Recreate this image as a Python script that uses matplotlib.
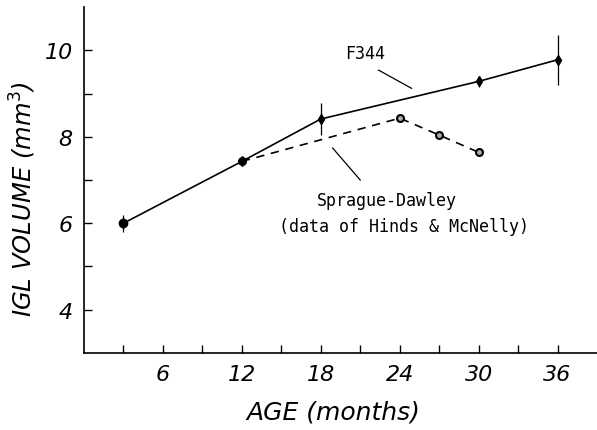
import matplotlib.pyplot as plt

# F344 data (this study)
f344_age = [3, 12, 18, 30, 36]
f344_vol = [6.0, 7.43, 8.41, 9.28, 9.78]
f344_err = [0.2, 0.05, 0.37, 0.12, 0.58]

# Sprague-Dawley (data of Hinds & McNelly)
sd_age = [12, 24, 27, 30]
sd_vol = [7.43, 8.43, 8.04, 7.64]

x_ticks = list(range(3, 37, 3))
x_labels = ['' if t % 6 else str(t) for t in x_ticks]
y_ticks = [4, 5, 6, 7, 8, 9, 10]
y_labels = ['4', '', '6', '', '8', '', '10']


def main():
    fig = plt.figure(figsize=(5.97, 4.31), dpi=100)
    ax = fig.add_axes([0.1407, 0.1787, 0.8593, 0.8027])

    ax.errorbar(f344_age, f344_vol, yerr=f344_err, color='black', lw=1.2,
                elinewidth=0.9, capsize=0, marker='d', ms=5)
    ax.plot([3], [6.0], 'o', color='black', ms=6)
    ax.plot(sd_age, sd_vol, color='black', lw=1.2, ls=(0, (5, 4)),
            marker='o', ms=5, mfc='#aaaaaa', mec='black', mew=1.5)

    # annotations (plotter-style mono font)
    mono = dict(family='DejaVu Sans Mono', fontsize=12, ha='center', va='center')
    ax.text(21.4, 9.93, 'F344', **mono)
    ax.plot([22.4, 24.9], [9.54, 9.12], color='black', lw=0.9)
    ax.text(23.0, 6.54, 'Sprague-Dawley', **mono)
    ax.text(24.3, 5.94, '(data of Hinds & McNelly)', **mono)
    ax.plot([18.9, 21.0], [7.74, 7.0], color='black', lw=0.9)

    ax.set_xlim(0, 39)
    ax.set_ylim(3, 11)
    ax.set_xticks(x_ticks)
    ax.set_xticklabels(x_labels, fontsize=16, style='italic')
    ax.set_yticks(y_ticks)
    ax.set_yticklabels(y_labels, fontsize=16, style='italic')
    ax.tick_params(direction='in', length=6, width=1, pad=8)
    ax.spines['top'].set_visible(False)
    ax.spines['right'].set_visible(False)
    ax.spines['left'].set_linewidth(1.2)
    ax.spines['bottom'].set_linewidth(1.2)

    ax.set_xlabel('AGE (months)', fontsize=18, style='italic')
    ax.xaxis.set_label_coords(0.485, -0.168)
    ax.set_ylabel('IGL VOLUME (mm$^{3}$)', fontsize=17.5, style='italic')
    ax.yaxis.set_label_coords(-0.119, 0.448)
    ax.xaxis.label.set_va('center')
    ax.yaxis.label.set_va('center')

    fig.savefig('out.png', dpi=100)


if __name__ == "__main__":
    main()
